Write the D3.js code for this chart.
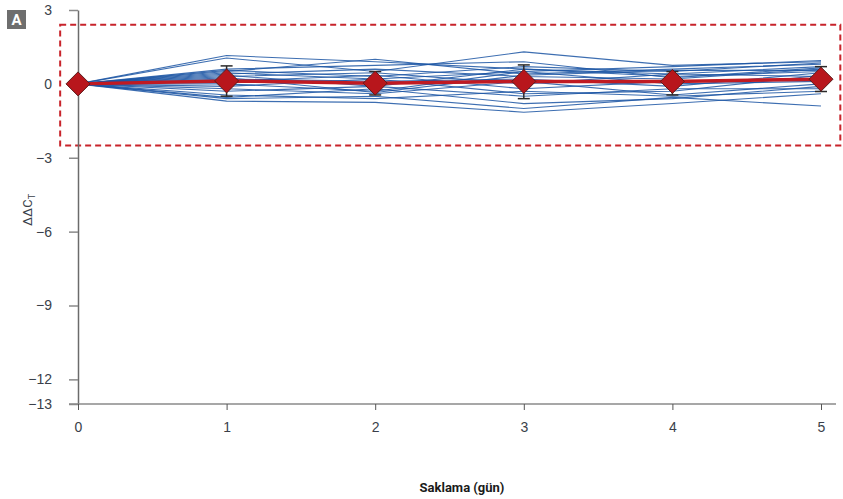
<!DOCTYPE html>
<html lang="tr">
<head>
<meta charset="UTF-8">
<title>ΔΔCT – Saklama (gün)</title>
<script src="https://d3js.org/d3.v7.min.js"></script>
<style>
  body { margin: 0; background: #fff; }
  svg { display: block; font-family: Roboto, "Noto Sans", sans-serif; }
</style>
</head>
<body>
<svg width="843" height="499"></svg>
<script>
// days on the x axis
const days = [0, 1, 2, 3, 4, 5];
const xTicks = [0, 1, 2, 3, 4, 5];
const yTicks = [3, 0, -3, -6, -9, -12, -13];

// individual samples (ΔΔCT per day)
const samples = [
  [0, 1.15, 0.90, 0.60, 0.40, 0.70],
  [0, 1.05, 0.50, 1.30, 0.75, 0.90],
  [0, 0.55, 0.30, 0.70, 0.50, 0.85],
  [0, 0.50, 1.00, 0.40, 0.60, 0.80],
  [0, 0.45, 0.20, 0.50, 0.70, 0.95],
  [0, 0.40, 0.60, 0.30, 0.20, 0.60],
  [0, 0.35, -0.10, 0.60, 0.30, 0.50],
  [0, 0.30, 0.45, 0.00, 0.40, 0.30],
  [0, 0.20, 0.10, 0.20, -0.10, 0.45],
  [0, 0.10, 0.35, -0.20, 0.10, 0.20],
  [0, 0.00, -0.30, 0.50, 0.00, 0.10],
  [0, -0.10, 0.20, -0.40, -0.30, 0.35],
  [0, -0.20, -0.40, 0.10, -0.45, 0.00],
  [0, -0.30, -0.10, -0.50, -0.20, -0.20],
  [0, -0.45, -0.60, -0.30, -0.50, -0.30],
  [0, -0.55, -0.20, -0.80, -0.60, -0.10],
  [0, -0.70, -0.75, -1.15, -0.80, -0.40],
  [0, -0.60, -0.50, -1.00, -0.55, -0.90],
  [0, 0.25, -0.35, 0.35, 0.55, 0.55],
  [0, 0.60, 0.75, 0.90, 0.25, 0.65]
];

// mean and error per day
const meanValues = [0, 0.12, 0.03, 0.10, 0.10, 0.19];
const errUpper   = [0, 0.73, 0.50, 0.77, 0.50, 0.70];
const errLower   = [0, -0.50, -0.45, -0.60, -0.45, -0.31];

// acceptance band
const bandY = [2.4, -2.5];
const bandX = [-0.12, 5.13];

const svg = d3.select("svg");

const x = d3.scaleLinear().domain([0, 5]).range([78, 821]);
const y = d3.scaleLinear().domain([3, -13]).range([10, 404]);

// dashed band
svg.append("rect")
  .attr("x", x(bandX[0]))
  .attr("y", y(bandY[0]))
  .attr("width", x(bandX[1]) - x(bandX[0]))
  .attr("height", y(bandY[1]) - y(bandY[0]))
  .attr("fill", "none")
  .attr("stroke", "#c8232b")
  .attr("stroke-width", 2)
  .attr("stroke-dasharray", "6,4");

// y axis
const yAxis = svg.append("g")
  .attr("transform", `translate(${x(0)},0)`)
  .call(d3.axisLeft(y).tickValues(yTicks).tickSize(9).tickSizeOuter(0)
    .tickFormat(d => d < 0 ? "\u2212" + Math.abs(d) : d));
yAxis.select(".domain").attr("stroke", "#6b6b6b").attr("stroke-width", 1.5);
yAxis.selectAll(".tick line").attr("stroke", "#8a8a8a").attr("stroke-width", 1.5);
yAxis.selectAll(".tick text").attr("fill", "#3a3f4a").attr("font-size", 14).attr("x", -26);

// x axis
const xAxis = svg.append("g")
  .attr("transform", `translate(0,${y(-13)})`)
  .call(d3.axisBottom(x).tickValues(xTicks).tickSize(6).tickSizeOuter(0).tickFormat(d3.format("d")));
xAxis.select(".domain").attr("d", `M69,0H836`).attr("stroke", "#8a8a8a").attr("stroke-width", 1.5);
xAxis.selectAll(".tick line").attr("stroke", "#555").attr("stroke-width", 1);
xAxis.selectAll(".tick text").attr("fill", "#3a3f4a").attr("font-size", 14).attr("y", 18);

// sample lines
const line = d3.line().x((d, i) => x(days[i])).y(d => y(d));
svg.append("g").selectAll("path")
  .data(samples)
  .join("path")
  .attr("d", line)
  .attr("fill", "none")
  .attr("stroke", "#1b55a3")
  .attr("stroke-opacity", 0.85)
  .attr("stroke-width", 1.1);

// mean line
svg.append("path")
  .datum(meanValues)
  .attr("d", line)
  .attr("fill", "none")
  .attr("stroke", "#c01a22")
  .attr("stroke-width", 3.5);

// error bars
const eb = svg.append("g").attr("stroke", "#2a2a2a").attr("stroke-width", 1.5);
days.forEach((d, i) => {
  if (errUpper[i] === errLower[i]) return;
  eb.append("line").attr("x1", x(d)).attr("x2", x(d)).attr("y1", y(errUpper[i])).attr("y2", y(errLower[i]));
  eb.append("line").attr("x1", x(d) - 6).attr("x2", x(d) + 6).attr("y1", y(errUpper[i])).attr("y2", y(errUpper[i]));
  eb.append("line").attr("x1", x(d) - 6).attr("x2", x(d) + 6).attr("y1", y(errLower[i])).attr("y2", y(errLower[i]));
});

// diamonds
svg.append("g").selectAll("path")
  .data(meanValues)
  .join("path")
  .attr("transform", (d, i) => `translate(${x(days[i])},${y(d)})`)
  .attr("d", "M0,-12L12,0L0,12L-12,0Z")
  .attr("fill", "#b8161c")
  .attr("stroke", "#5e1a1a")
  .attr("stroke-width", 1);

// y label
const yl = svg.append("text")
  .attr("transform", "translate(32,210) rotate(-90)")
  .attr("text-anchor", "middle")
  .attr("fill", "#3a3f4a")
  .attr("font-size", 13);
yl.append("tspan").text("\u0394\u0394C");
yl.append("tspan").attr("font-size", 9).attr("dy", 3).text("T");

// x label
svg.append("text")
  .attr("x", 462)
  .attr("y", 492)
  .attr("text-anchor", "middle")
  .attr("font-weight", "bold")
  .attr("font-size", 13)
  .attr("fill", "#1a1a1a")
  .text("Saklama (gün)");

// panel letter
svg.append("rect").attr("x", 7).attr("y", 10).attr("width", 19).attr("height", 19).attr("fill", "#6e6e6e");
svg.append("text")
  .attr("x", 16.5).attr("y", 25)
  .attr("text-anchor", "middle")
  .attr("font-weight", "bold")
  .attr("font-size", 15)
  .attr("fill", "#fff")
  .text("A");
</script>
</body>
</html>
